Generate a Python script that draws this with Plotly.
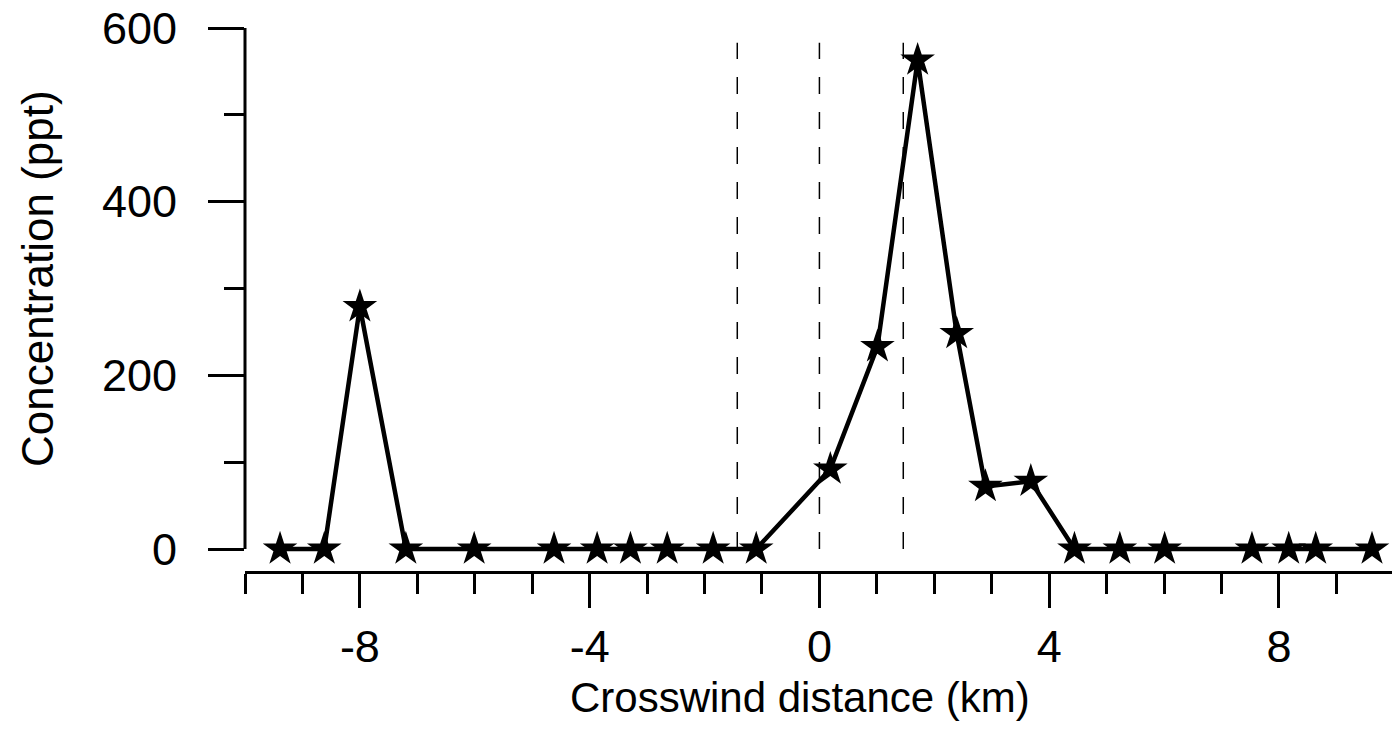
import plotly.graph_objects as go

# Data
distance_km = [-9.39, -8.62, -8.0, -7.2, -6.01, -4.62, -3.87, -3.29, -2.65, -1.85, -1.10,
               0.19, 1.01, 1.71, 2.39, 2.89, 3.68, 4.44, 5.23, 6.01, 7.53, 8.17, 8.64, 9.62]
concentration_ppt = [0, 0, 279, 0, 0, 0, 0, 0, 0, 0, 0,
                     92, 233, 563, 248, 72, 78, 0, 0, 0, 0, 0, 0, 0]
dashed_x = [-1.43, 0.0, 1.46]
dashed_top = 583
x_tick_vals = [-8, -4, 0, 4, 8]
x_tick_text = ["-8", "-4", "0", "4", "8"]
y_tick_vals = [0, 200, 400, 600]
y_tick_text = ["0", "200", "400", "600"]

FONT = "Liberation Sans, Arial, Helvetica, sans-serif"

fig = go.Figure()

for xv in dashed_x:
    fig.add_trace(go.Scatter(
        x=[xv, xv], y=[0, dashed_top], mode="lines",
        line=dict(color="black", width=1.5, dash="17px,18px"),
        showlegend=False, hoverinfo="skip"))

fig.add_trace(go.Scatter(
    x=distance_km, y=concentration_ppt, mode="lines+markers",
    line=dict(color="black", width=4.5),
    marker=dict(symbol="star", size=26, color="black"),
    cliponaxis=False, showlegend=False))

# y-axis line drawn only from 0 to 600
fig.add_shape(type="line", xref="paper", yref="y", x0=0, x1=0, y0=0, y1=600,
              line=dict(color="black", width=3), layer="above")

fig.add_annotation(text="Crosswind distance (km)", xref="paper", yref="paper",
                   x=0.4839, y=-0.2298, xanchor="center", yanchor="middle",
                   showarrow=False, font=dict(family=FONT, size=42, color="black"))
fig.add_annotation(text="Concentration (ppt)", xref="paper", yref="paper",
                   x=-0.1813, y=0.5386, xanchor="center", yanchor="middle",
                   textangle=-90, showarrow=False,
                   font=dict(family=FONT, size=44, color="black"))

fig.update_layout(
    width=1392, height=735,
    margin=dict(l=245, r=0, t=28, b=163, pad=0),
    paper_bgcolor="white", plot_bgcolor="white",
    font=dict(family=FONT, color="black"),
    xaxis=dict(
        range=[-10, 9.968], anchor="free", position=0,
        showline=True, linewidth=3, linecolor="black",
        showgrid=False, zeroline=False,
        ticks="outside", ticklen=34, tickwidth=3, tickcolor="black",
        tickmode="array", tickvals=x_tick_vals, ticktext=x_tick_text,
        tickfont=dict(family=FONT, size=45, color="black"),
        ticklabelstandoff=0,
        minor=dict(ticks="outside", ticklen=20, tickwidth=3, tickcolor="black",
                   tickmode="linear", tick0=0, dtick=1, showgrid=False),
    ),
    yaxis=dict(
        range=[-6, 600], domain=[0.0327, 1],
        showline=False, showgrid=False, zeroline=False,
        ticks="outside", ticklen=36, tickwidth=3, tickcolor="black",
        tickmode="array", tickvals=y_tick_vals, ticktext=y_tick_text,
        tickfont=dict(family=FONT, size=45, color="black"),
        ticklabelstandoff=22,
        minor=dict(ticks="outside", ticklen=20, tickwidth=3, tickcolor="black",
                   tickmode="linear", tick0=0, dtick=100, showgrid=False),
    ),
)

fig.write_html("out.html")
